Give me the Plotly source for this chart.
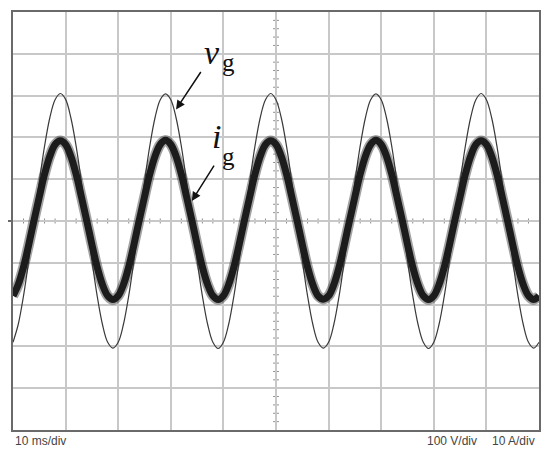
import plotly.graph_objects as go

# time axis, ms (10 ms/div, 10 divisions)
t_ms = list(range(0, 101))

# grid voltage v_g, volts (100 V/div), every 1 ms
vg_volts = [
    -290, -247, -179, -94, 0, 94, 179, 247, 290, 305, 291, 247, 179, 94, 0, -94, -179, -247, -290, -304,
    -290, -247, -179, -94, 0, 94, 179, 247, 290, 304, 290, 247, 179, 94, 0, -94, -179, -247, -290, -305,
    -290, -247, -179, -94, 0, 94, 179, 247, 290, 305, 290, 247, 179, 94, 0, -94, -179, -247, -290, -304,
    -290, -247, -179, -94, 0, 94, 179, 247, 290, 304, 290, 247, 179, 94, 0, -94, -179, -247, -290, -305,
    -290, -247, -179, -94, 0, 94, 179, 247, 290, 305, 290, 247, 179, 94, 0, -94, -179, -247, -290, -304,
    -290,
]

# grid current i_g, amps (10 A/div)
ig_amps = [
    -17.9, -15.2, -11.0, -5.6, 0.2, 5.8, 11.2, 15.5, 18.3, 19.2, 18.3, 15.5, 11.2, 5.8, 0.2, -5.6, -11.0, -15.2, -17.9, -18.8,
    -17.9, -15.2, -11.0, -5.6, 0.2, 5.8, 11.2, 15.5, 18.3, 19.3, 18.3, 15.5, 11.2, 5.8, 0.2, -5.6, -11.0, -15.2, -17.9, -18.8,
    -17.9, -15.2, -11.0, -5.6, 0.2, 5.8, 11.2, 15.5, 18.3, 19.2, 18.3, 15.5, 11.2, 5.8, 0.2, -5.6, -11.0, -15.2, -17.9, -18.7,
    -17.9, -15.2, -11.0, -5.6, 0.2, 5.8, 11.2, 15.5, 18.3, 19.3, 18.3, 15.5, 11.2, 5.8, 0.2, -5.6, -11.0, -15.2, -17.9, -18.8,
    -17.9, -15.2, -11.0, -5.6, 0.2, 5.8, 11.2, 15.5, 18.3, 19.2, 18.3, 15.5, 11.2, 5.8, 0.2, -5.6, -11.0, -15.2, -17.9, -18.8,
    -17.9,
]

GRID = "#c8c8c8"
CENTER = "#8c8c8c"
FRAME = "#6a6a6a"

fig = go.Figure()

# current: fuzzy outer band + dark core (switching ripple look)
fig.add_trace(go.Scatter(x=t_ms, y=ig_amps, yaxis="y2", mode="lines",
                         line=dict(color="rgba(50,50,50,0.45)", width=10.5, shape="spline"),
                         hoverinfo="skip", showlegend=False))
fig.add_trace(go.Scatter(x=t_ms, y=ig_amps, yaxis="y2", mode="lines",
                         line=dict(color="#1c1c1c", width=7, shape="spline"),
                         name="i_g", showlegend=False))
# voltage: thin trace
fig.add_trace(go.Scatter(x=t_ms, y=vg_volts, mode="lines",
                         line=dict(color="#3a3a3a", width=1.2, shape="spline"),
                         name="v_g", showlegend=False))

shapes = [
    dict(type="line", xref="x", yref="y", x0=0, x1=100, y0=0, y1=0,
         line=dict(color=CENTER, width=1.5), layer="below"),
    dict(type="line", xref="x", yref="y", x0=50, x1=50, y0=-500, y1=500,
         line=dict(color=CENTER, width=1.5), layer="below"),
    # ground marker left of the frame
    dict(type="line", xref="paper", yref="y", x0=-0.012, x1=0, y0=0, y1=0,
         line=dict(color=FRAME, width=2)),
]
# minor ticks on the centre lines (5 per division)
for i in range(1, 50):
    if i % 5:
        shapes.append(dict(type="line", xref="x", yref="y", x0=i * 2, x1=i * 2, y0=-6, y1=6,
                           line=dict(color=CENTER, width=1), layer="below"))
for i in range(-24, 25):
    if i % 5:
        shapes.append(dict(type="line", xref="x", yref="y", x0=49.45, x1=50.55, y0=i * 20, y1=i * 20,
                           line=dict(color=CENTER, width=1), layer="below"))

serif = "Liberation Serif"
sans = dict(family="Liberation Sans", size=12, color="#444")
annotations = [
    dict(x=37.8, y=402, xref="x", yref="y", text="<i>v</i>", showarrow=False,
         font=dict(family=serif, size=34, color="#111")),
    dict(x=41.0, y=379, xref="x", yref="y", text="g", showarrow=False,
         font=dict(family=serif, size=25, color="#111")),
    dict(x=38.6, y=202, xref="x", yref="y", text="<i>i</i>", showarrow=False,
         font=dict(family=serif, size=34, color="#111")),
    dict(x=41.0, y=155, xref="x", yref="y", text="g", showarrow=False,
         font=dict(family=serif, size=25, color="#111")),
    # arrows
    dict(x=31.0, y=267, ax=35.9, ay=360, xref="x", yref="y", axref="x", ayref="y",
         text="", showarrow=True, arrowhead=2, arrowsize=1.2, arrowwidth=1.5, arrowcolor="#111"),
    dict(x=34.0, y=48, ax=38.4, ay=136, xref="x", yref="y", axref="x", ayref="y",
         text="", showarrow=True, arrowhead=2, arrowsize=1.2, arrowwidth=1.5, arrowcolor="#111"),
    # scale notes
    dict(x=0, y=-0.026, xref="paper", yref="paper", text="10 ms/div", showarrow=False,
         xanchor="left", yanchor="middle", font=sans),
    dict(x=0.8346, y=-0.026, xref="paper", yref="paper", text="100 V/div", showarrow=False,
         xanchor="center", yanchor="middle", font=sans),
    dict(x=0.996, y=-0.026, xref="paper", yref="paper", text="10 A/div", showarrow=False,
         xanchor="right", yanchor="middle", font=sans),
]

# page body keeps its default 8 px margin, so size the figure to fit inside it
fig.update_layout(
    width=542, height=452,
    margin=dict(l=5, r=11, t=2, b=30),
    plot_bgcolor="white", paper_bgcolor="white",
    shapes=shapes, annotations=annotations,
    xaxis=dict(range=[0, 100], dtick=10, showgrid=True, gridcolor=GRID, gridwidth=1.5,
               showticklabels=False, ticks="", zeroline=False,
               showline=True, mirror=True, linecolor=FRAME, linewidth=2),
    yaxis=dict(range=[-500, 500], dtick=100, showgrid=True, gridcolor=GRID, gridwidth=1.5,
               showticklabels=False, ticks="", zeroline=False,
               showline=True, mirror=True, linecolor=FRAME, linewidth=2),
    yaxis2=dict(range=[-50, 50], overlaying="y", visible=False),
)

fig.write_html("out.html")
